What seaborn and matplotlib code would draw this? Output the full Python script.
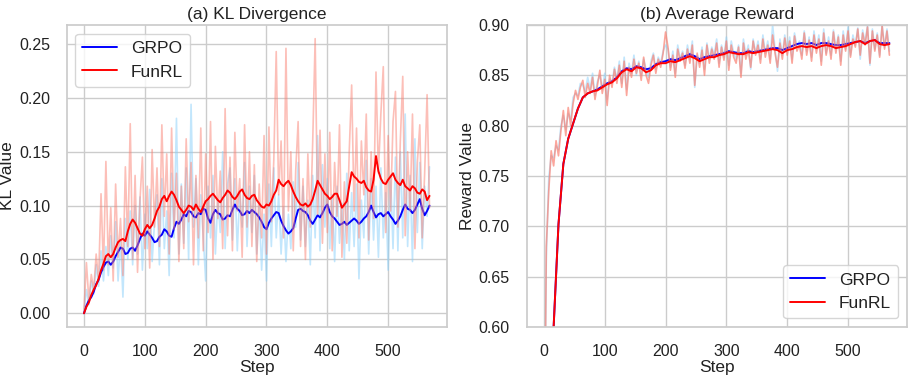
import numpy as np
import matplotlib
matplotlib.use("Agg")
import matplotlib.pyplot as plt
from matplotlib.ticker import MultipleLocator
import seaborn as sns

# raw values (and KL smoothed curves) every 4 steps, reward smoothed curves every 8 steps
raw_steps = np.arange(0, 569, 4)
smooth_steps = np.arange(0, 569, 8)

kl_grpo_raw = [
    0.002, 0.022, 0.008, 0.030, 0.018, 0.045, 0.025, 0.058, 0.030, 0.062,
    0.035, 0.072, 0.042, 0.085, 0.030, 0.068, 0.015, 0.088, 0.050, 0.095,
    0.045, 0.100, 0.055, 0.108, 0.040, 0.092, 0.060, 0.115, 0.048, 0.085,
    0.110, 0.045, 0.125, 0.060, 0.095, 0.035, 0.130, 0.070, 0.181, 0.055,
    0.120, 0.065, 0.135, 0.050, 0.194, 0.080, 0.125, 0.045, 0.110, 0.072,
    0.030, 0.118, 0.070, 0.128, 0.055, 0.105, 0.075, 0.150, 0.060, 0.120,
    0.135, 0.068, 0.125, 0.058, 0.112, 0.080, 0.140, 0.062, 0.118, 0.075,
    0.128, 0.055, 0.100, 0.040, 0.092, 0.030, 0.120, 0.062, 0.135, 0.070,
    0.110, 0.055, 0.098, 0.048, 0.092, 0.060, 0.122, 0.080, 0.140, 0.068,
    0.118, 0.062, 0.105, 0.045, 0.128, 0.070, 0.165, 0.058, 0.138, 0.080,
    0.125, 0.060, 0.110, 0.048, 0.118, 0.065, 0.102, 0.050, 0.130, 0.058,
    0.112, 0.062, 0.120, 0.032, 0.105, 0.070, 0.142, 0.055, 0.125, 0.068,
    0.118, 0.052, 0.135, 0.070, 0.112, 0.040, 0.128, 0.060, 0.145, 0.058,
    0.150, 0.070, 0.185, 0.062, 0.128, 0.048, 0.162, 0.075, 0.140, 0.060,
    0.118, 0.090, 0.136,
]
kl_funrl_raw = [
    0.003, 0.047, 0.012, 0.036, 0.022, 0.055, 0.031, 0.111, 0.040, 0.141,
    0.045, 0.098, 0.030, 0.120, 0.052, 0.088, 0.035, 0.136, 0.062, 0.176,
    0.050, 0.128, 0.038, 0.105, 0.145, 0.060, 0.118, 0.042, 0.152, 0.080,
    0.135, 0.062, 0.175, 0.090, 0.148, 0.055, 0.172, 0.078, 0.130, 0.048,
    0.118, 0.060, 0.162, 0.085, 0.140, 0.045, 0.128, 0.070, 0.172, 0.058,
    0.148, 0.075, 0.178, 0.050, 0.155, 0.088, 0.132, 0.060, 0.190, 0.072,
    0.145, 0.058, 0.168, 0.095, 0.125, 0.052, 0.175, 0.080, 0.150, 0.062,
    0.138, 0.048, 0.120, 0.070, 0.165, 0.055, 0.173, 0.085, 0.142, 0.243,
    0.110, 0.160, 0.070, 0.246, 0.095, 0.150, 0.058, 0.132, 0.178, 0.062,
    0.125, 0.050, 0.148, 0.080, 0.160, 0.255, 0.092, 0.170, 0.065, 0.148,
    0.075, 0.168, 0.058, 0.140, 0.090, 0.175, 0.052, 0.122, 0.065, 0.150,
    0.212, 0.095, 0.172, 0.070, 0.160, 0.110, 0.185, 0.068, 0.150, 0.088,
    0.224, 0.130, 0.185, 0.229, 0.075, 0.165, 0.095, 0.178, 0.206, 0.080,
    0.160, 0.220, 0.072, 0.150, 0.095, 0.185, 0.060, 0.140, 0.175, 0.070,
    0.130, 0.203, 0.098,
]
kl_grpo_smooth = [
    0.000, 0.007, 0.012, 0.015, 0.020, 0.027, 0.031, 0.038, 0.043, 0.047,
    0.048, 0.045, 0.048, 0.053, 0.057, 0.061, 0.060, 0.055, 0.056, 0.060,
    0.061, 0.058, 0.063, 0.069, 0.074, 0.072, 0.076, 0.073, 0.070, 0.066,
    0.067, 0.071, 0.073, 0.078, 0.076, 0.072, 0.071, 0.079, 0.085, 0.083,
    0.087, 0.092, 0.090, 0.095, 0.094, 0.090, 0.089, 0.093, 0.092, 0.097,
    0.096, 0.088, 0.084, 0.092, 0.096, 0.093, 0.092, 0.087, 0.088, 0.091,
    0.090, 0.096, 0.101, 0.097, 0.095, 0.091, 0.092, 0.095, 0.093, 0.096,
    0.094, 0.092, 0.089, 0.085, 0.080, 0.078, 0.084, 0.088, 0.091, 0.094,
    0.093, 0.086, 0.081, 0.077, 0.074, 0.076, 0.079, 0.088, 0.096, 0.097,
    0.095, 0.094, 0.091, 0.086, 0.083, 0.087, 0.091, 0.089, 0.093, 0.098,
    0.101, 0.094, 0.090, 0.088, 0.085, 0.082, 0.083, 0.085, 0.082, 0.084,
    0.086, 0.088, 0.086, 0.083, 0.085, 0.088, 0.090, 0.094, 0.100, 0.094,
    0.089, 0.092, 0.093, 0.090, 0.092, 0.094, 0.090, 0.087, 0.083, 0.086,
    0.090, 0.096, 0.101, 0.097, 0.096, 0.093, 0.096, 0.101, 0.106, 0.097,
    0.091, 0.095, 0.100,
]
kl_funrl_smooth = [
    0.000, 0.006, 0.010, 0.017, 0.022, 0.026, 0.032, 0.040, 0.046, 0.053,
    0.055, 0.052, 0.055, 0.061, 0.066, 0.068, 0.069, 0.067, 0.076, 0.083,
    0.087, 0.084, 0.079, 0.074, 0.072, 0.078, 0.082, 0.079, 0.082, 0.088,
    0.095, 0.099, 0.106, 0.109, 0.104, 0.109, 0.113, 0.110, 0.105, 0.099,
    0.096, 0.093, 0.096, 0.100, 0.099, 0.096, 0.101, 0.097, 0.094, 0.099,
    0.104, 0.106, 0.109, 0.111, 0.108, 0.105, 0.103, 0.107, 0.110, 0.114,
    0.112, 0.108, 0.106, 0.109, 0.113, 0.115, 0.110, 0.107, 0.106, 0.109,
    0.110, 0.105, 0.102, 0.099, 0.098, 0.101, 0.100, 0.104, 0.110, 0.114,
    0.124, 0.120, 0.118, 0.121, 0.123, 0.119, 0.113, 0.108, 0.104, 0.101,
    0.100, 0.102, 0.099, 0.101, 0.106, 0.114, 0.123, 0.119, 0.115, 0.111,
    0.109, 0.106, 0.108, 0.111, 0.111, 0.105, 0.098, 0.101, 0.104, 0.118,
    0.131, 0.127, 0.125, 0.122, 0.121, 0.123, 0.117, 0.114, 0.113, 0.124,
    0.146, 0.132, 0.125, 0.121, 0.120, 0.124, 0.127, 0.130, 0.124, 0.121,
    0.119, 0.124, 0.118, 0.116, 0.114, 0.118, 0.116, 0.112, 0.111, 0.115,
    0.113, 0.105, 0.109,
]

rw_grpo_raw = [
    0.420, 0.670, 0.748, 0.770, 0.768, 0.780, 0.776, 0.800, 0.810, 0.796,
    0.812, 0.806, 0.828, 0.832, 0.830, 0.842, 0.840, 0.834, 0.848, 0.836,
    0.852, 0.830, 0.844, 0.850, 0.836, 0.852, 0.826, 0.846, 0.842, 0.858,
    0.846, 0.864, 0.842, 0.868, 0.836, 0.862, 0.852, 0.870, 0.850, 0.864,
    0.850, 0.866, 0.856, 0.848, 0.864, 0.872, 0.856, 0.868, 0.862, 0.874,
    0.880, 0.876, 0.858, 0.874, 0.852, 0.880, 0.866, 0.874, 0.860, 0.880,
    0.866, 0.884, 0.838, 0.870, 0.862, 0.878, 0.856, 0.882, 0.866, 0.878,
    0.870, 0.886, 0.862, 0.880, 0.868, 0.888, 0.860, 0.884, 0.872, 0.866,
    0.880, 0.852, 0.886, 0.870, 0.880, 0.856, 0.886, 0.872, 0.884, 0.866,
    0.890, 0.872, 0.884, 0.866, 0.900, 0.876, 0.854, 0.886, 0.870, 0.890,
    0.874, 0.888, 0.866, 0.892, 0.878, 0.884, 0.870, 0.894, 0.874, 0.888,
    0.868, 0.894, 0.876, 0.890, 0.864, 0.896, 0.872, 0.888, 0.870, 0.895,
    0.876, 0.890, 0.864, 0.894, 0.876, 0.898, 0.870, 0.890, 0.880, 0.897,
    0.866, 0.895, 0.882, 0.900, 0.860, 0.896, 0.876, 0.892, 0.870, 0.900,
    0.878, 0.896, 0.874,
]
rw_funrl_raw = [
    0.400, 0.680, 0.735, 0.775, 0.760, 0.785, 0.770, 0.795, 0.815, 0.790,
    0.818, 0.800, 0.822, 0.835, 0.826, 0.838, 0.845, 0.828, 0.842, 0.832,
    0.848, 0.826, 0.840, 0.855, 0.832, 0.846, 0.820, 0.850, 0.838, 0.856,
    0.842, 0.860, 0.838, 0.864, 0.830, 0.858, 0.848, 0.866, 0.852, 0.862,
    0.845, 0.868, 0.850, 0.842, 0.860, 0.870, 0.852, 0.866, 0.858, 0.872,
    0.893, 0.878, 0.855, 0.870, 0.848, 0.876, 0.864, 0.872, 0.857, 0.876,
    0.862, 0.880, 0.840, 0.872, 0.858, 0.875, 0.850, 0.880, 0.862, 0.876,
    0.866, 0.882, 0.858, 0.878, 0.865, 0.884, 0.855, 0.880, 0.868, 0.862,
    0.878, 0.848, 0.882, 0.866, 0.876, 0.858, 0.884, 0.870, 0.880, 0.862,
    0.886, 0.868, 0.880, 0.862, 0.890, 0.872, 0.858, 0.882, 0.866, 0.887,
    0.870, 0.884, 0.862, 0.889, 0.874, 0.880, 0.866, 0.892, 0.870, 0.885,
    0.864, 0.890, 0.872, 0.886, 0.860, 0.892, 0.870, 0.884, 0.866, 0.893,
    0.872, 0.888, 0.860, 0.890, 0.874, 0.894, 0.868, 0.886, 0.878, 0.896,
    0.870, 0.892, 0.880, 0.898, 0.862, 0.894, 0.874, 0.890, 0.868, 0.899,
    0.876, 0.894, 0.870,
]
rw_grpo_smooth = [
    0.060, 0.470, 0.600, 0.702, 0.762, 0.787, 0.802, 0.817,
    0.828, 0.832, 0.834, 0.836, 0.839, 0.842, 0.844, 0.848,
    0.854, 0.857, 0.856, 0.859, 0.858, 0.856, 0.857, 0.861,
    0.863, 0.864, 0.866, 0.865, 0.867, 0.869, 0.871, 0.869,
    0.866, 0.868, 0.869, 0.870, 0.871, 0.872, 0.874, 0.873,
    0.872, 0.872, 0.874, 0.873, 0.874, 0.875, 0.876, 0.877,
    0.877, 0.875, 0.877, 0.879, 0.881, 0.882, 0.881, 0.882,
    0.880, 0.882, 0.882, 0.881, 0.880, 0.880, 0.881, 0.882,
    0.883, 0.884, 0.882, 0.884, 0.885, 0.882, 0.882, 0.882,
]
rw_funrl_smooth = [
    0.060, 0.470, 0.600, 0.702, 0.762, 0.787, 0.802, 0.817,
    0.828, 0.832, 0.834, 0.835, 0.838, 0.841, 0.843, 0.847,
    0.853, 0.856, 0.854, 0.858, 0.857, 0.853, 0.855, 0.860,
    0.862, 0.862, 0.864, 0.863, 0.865, 0.867, 0.869, 0.867,
    0.864, 0.866, 0.868, 0.868, 0.870, 0.871, 0.873, 0.872,
    0.871, 0.871, 0.873, 0.872, 0.873, 0.874, 0.875, 0.876,
    0.875, 0.872, 0.875, 0.876, 0.878, 0.879, 0.878, 0.879,
    0.877, 0.879, 0.880, 0.879, 0.877, 0.878, 0.879, 0.881,
    0.883, 0.884, 0.881, 0.884, 0.885, 0.881, 0.880, 0.881,
]

sns.set_theme(style="whitegrid")
plt.rcParams["font.family"] = ["Liberation Sans", "DejaVu Sans"]
plt.rcParams.update({
    "axes.titlesize": 12.5,
    "axes.labelsize": 12.5,
    "xtick.labelsize": 11.5,
    "ytick.labelsize": 11.5,
    "xtick.major.pad": 6,
    "ytick.major.pad": 6,
    "legend.fontsize": 12.5,
    "text.color": "#222222",
    "axes.labelcolor": "#222222",
    "xtick.color": "#222222",
    "ytick.color": "#222222",
})

fig, axes = plt.subplots(1, 2, figsize=(9.14, 3.78), dpi=100)


def draw(ax, grpo_raw, grpo_smooth, funrl_raw, funrl_smooth, smooth_x, red_alpha):
    sns.lineplot(x=raw_steps, y=grpo_raw, ax=ax, color="lightskyblue", alpha=0.5, linewidth=1.2)
    sns.lineplot(x=smooth_x, y=grpo_smooth, ax=ax, color="blue", linewidth=1.4, label="GRPO")
    sns.lineplot(x=raw_steps, y=funrl_raw, ax=ax, color="salmon", alpha=red_alpha, linewidth=1.2)
    sns.lineplot(x=smooth_x, y=funrl_smooth, ax=ax, color="red", linewidth=1.4, label="FunRL")


# (a) KL
ax = axes[0]
draw(ax, kl_grpo_raw, kl_grpo_smooth, kl_funrl_raw, kl_funrl_smooth, raw_steps, 0.5)
ax.set_title("(a) KL Divergence", pad=4)
ax.set_xlabel("Step", labelpad=1)
ax.set_ylabel("KL Value", labelpad=3)
ax.legend(loc="upper left")

# (b) reward
ax = axes[1]
draw(ax, rw_grpo_raw, rw_grpo_smooth, rw_funrl_raw, rw_funrl_smooth, smooth_steps, 0.7)
ax.set_ylim(0.6, 0.9)
ax.yaxis.set_major_locator(MultipleLocator(0.05))
ax.set_title("(b) Average Reward", pad=4)
ax.set_xlabel("Step", labelpad=1)
ax.set_ylabel("Reward Value", labelpad=3)
ax.legend(loc="lower right")

fig.subplots_adjust(left=0.073, right=0.992, top=0.934, bottom=0.135, wspace=0.21)
fig.savefig("out.png", dpi=100)
